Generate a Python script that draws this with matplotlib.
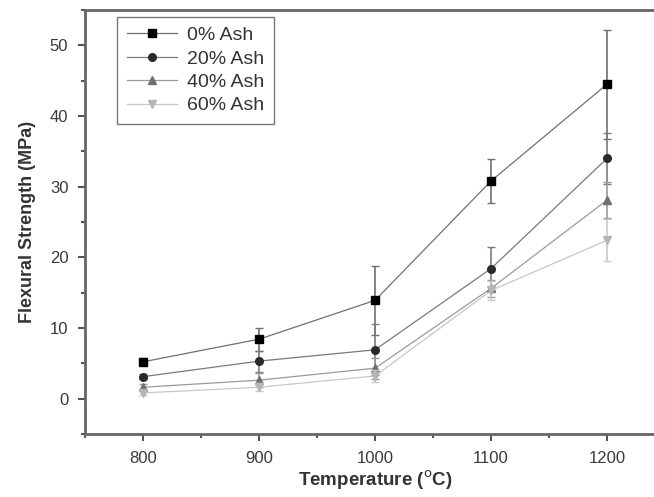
import matplotlib.pyplot as plt
from matplotlib.ticker import MultipleLocator

temps = [800, 900, 1000, 1100, 1200]

ash0 = [5.2, 8.4, 13.9, 30.8, 44.5]
ash0_err = [0.5, 1.6, 4.9, 3.1, 7.7]
ash20 = [3.1, 5.3, 6.9, 18.4, 34.0]
ash20_err = [0.4, 1.5, 3.6, 3.0, 3.6]
ash40 = [1.6, 2.6, 4.3, 15.6, 28.1]
ash40_err = [0.4, 1.0, 1.5, 1.2, 2.5]
ash60 = [0.8, 1.6, 3.2, 15.3, 22.4]
ash60_err = [0.3, 0.6, 0.8, 1.3, 3.0]

labels = ["0% Ash", "20% Ash", "40% Ash", "60% Ash"]

plt.rcParams['font.family'] = ['Liberation Sans', 'DejaVu Sans']

fig = plt.figure(figsize=(6.54, 4.97), dpi=100)
ax = fig.add_axes([0.130, 0.127, 0.887, 0.853])

series = [
    (ash0, ash0_err, 's', '#000000', '#707070'),
    (ash20, ash20_err, 'o', '#2a2a2a', '#7a7a7a'),
    (ash40, ash40_err, '^', '#707070', '#9a9a9a'),
    (ash60, ash60_err, 'v', '#b5b5b5', '#c8c8c8'),
]
for (vals, err, mk, col, lcol), lab in zip(series, labels):
    ax.errorbar(temps, vals, yerr=err, fmt='none', ecolor=lcol,
                elinewidth=1.2, capsize=3, capthick=1.0)
    ax.plot(temps, vals, color=lcol, lw=0.9, marker=mk, markersize=5.5,
            markerfacecolor=col, markeredgecolor=col, label=lab)

ax.set_xlim(750, 1250)
ax.set_ylim(-5, 55)
ax.xaxis.set_major_locator(MultipleLocator(100))
ax.xaxis.set_minor_locator(MultipleLocator(50))
ax.yaxis.set_major_locator(MultipleLocator(10))
ax.yaxis.set_minor_locator(MultipleLocator(5))
ax.tick_params(which='both', direction='out', colors='#555555',
               labelcolor='#3a3a3a', labelsize=12, width=1.5)
ax.tick_params(which='major', length=5)
ax.tick_params(which='minor', length=3)
ax.tick_params(axis='y', which='major', pad=7)
ax.tick_params(axis='x', which='major', pad=7)
for sp in ax.spines.values():
    sp.set_color('#666666')
    sp.set_linewidth(2.0)

ax.set_xlabel("Temperature ($^{\\mathrm{o}}$C)", fontsize=13.5, fontweight='bold',
              color='#333333', labelpad=2)
ax.set_ylabel("Flexural Strength (MPa)", fontsize=13, fontweight='bold',
              color='#333333', labelpad=10)

leg = ax.legend(loc='upper left', bbox_to_anchor=(0.055, 0.984), fontsize=14,
                frameon=True, fancybox=False, handlelength=2.6,
                handletextpad=0.5, borderpad=0.5, labelspacing=0.3,
                borderaxespad=0)
leg.get_frame().set_edgecolor('#555555')
leg.get_frame().set_linewidth(1.0)
for t in leg.get_texts():
    t.set_color('#333333')

fig.savefig('out.png', dpi=100)
